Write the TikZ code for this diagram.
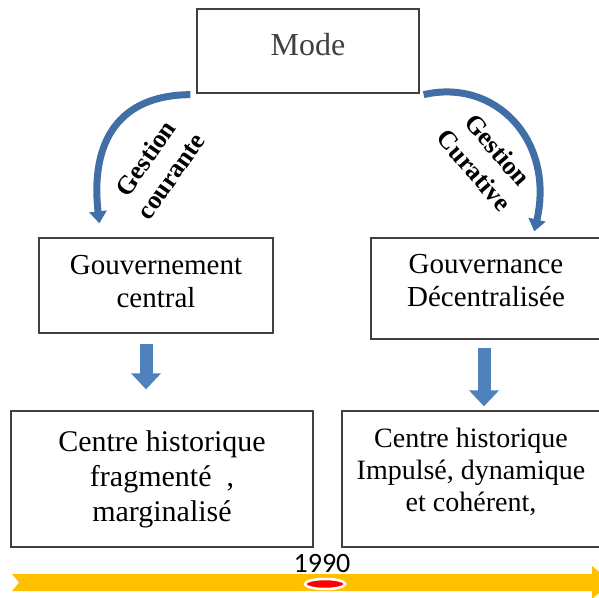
\documentclass[tikz,border=0pt]{standalone}
\usepackage{fontspec}
\setmainfont{Liberation Serif}
\newfontfamily\calfont{Carlito}
\usetikzlibrary{arrows.meta, calc, shapes.geometric}
\definecolor{curveblue}{RGB}{66, 110, 168}
\definecolor{blockblue}{RGB}{79, 129, 189}
\definecolor{timeyellow}{RGB}{255, 192, 0}
\definecolor{boxgray}{RGB}{64, 64, 64}

\begin{document}
\begin{tikzpicture}[
  x=1pt, y=-1pt,
  gbox/.style={draw=boxgray, line width=1.3pt, align=center, inner sep=0pt},
  curvearr/.style={curveblue, line width=7pt, -{Triangle[width=17pt, length=12pt]}},
  blockarr/.style={blockblue, line width=13pt, -{Triangle[width=29pt, length=16pt]}},
  gest/.style={font=\fontsize{26}{31}\selectfont\bfseries, align=center}
]
  \useasboundingbox (0,0) rectangle (599,597);
  \clip (0,0) rectangle (599,597);

  % boxes
  \node[gbox, minimum width=222pt, minimum height=84pt, text=boxgray, font=\fontsize{32}{36}\selectfont] (mode) at (308,51) {Mode\\[-22pt]};
  \node[gbox, minimum width=234pt, minimum height=95pt, font=\fontsize{29}{33}\selectfont] (gov) at (156,285.5) {Gouvernement\\central\\[-25pt]};
  \node[gbox, minimum width=230pt, minimum height=101pt, font=\fontsize{29}{33}\selectfont] (govr) at (486,288.5) {Gouvernance\\Décentralisée\\[-17pt]};
  \node[gbox, minimum width=302pt, minimum height=136pt, font=\fontsize{30}{35}\selectfont] (cl) at (162,479) {Centre historique\\fragmenté~ ,\\marginalisé};
  \node[gbox, minimum width=258pt, minimum height=136pt, font=\fontsize{28}{32}\selectfont] (cr) at (471,479) {Centre historique\\Impulsé, dynamique\\et cohérent,\\[-14pt]};

  % curved arrows
  \draw[curvearr] ($(mode.south west)+(-6,1)$) .. controls (120,95) and (90,140) .. ($(gov.north west)+(61,-14)$);
  \draw[curvearr] ($(mode.south east)+(4,1)$) .. controls (495,78) and (555,140) .. ($(govr.north west)+(164,-6)$);
  \node[gest, rotate=55] (gcour) at (158,167) {Gestion\\courante};
  \node[gest, rotate=-49] (gcura) at (486,160) {Gestion\\Curative};

  % block arrows
  \draw[blockarr] ($(gov.south)+(-10,10)$) -- ($(cl.north)+(-16,-21)$);
  \draw[blockarr] ($(govr.south)+(-2,8)$) -- ($(cr.north)+(13,-4)$);

  % timeline
  \fill[timeyellow] (12,574) -- (592,574) -- (592,566) -- (612,582.5) -- (592,599)
    -- (592,591) -- (12,591) -- (19,582.5) -- cycle;
  \node[font=\calfont\fontsize{28}{30}\selectfont] (year) at (322,564) {1990};
  \node[ellipse, fill=red, draw=white, line width=2.5pt, minimum width=40pt, minimum height=10pt, inner sep=0pt] (mark) at (325,584) {};
\end{tikzpicture}
\end{document}
